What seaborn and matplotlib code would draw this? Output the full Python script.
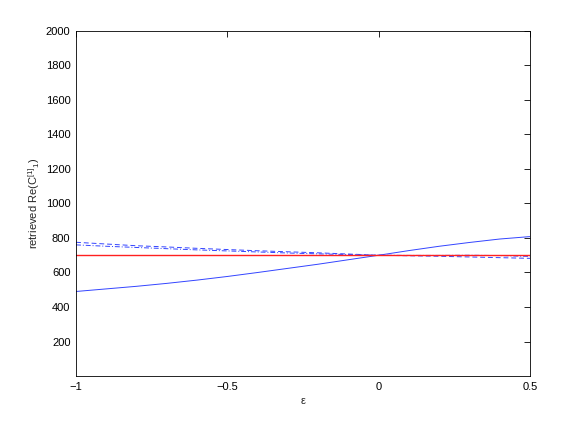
import numpy as np
import pandas as pd
import matplotlib
matplotlib.use("Agg")
import matplotlib.pyplot as plt
import seaborn as sns

# values (every 0.1 in epsilon)
eps = [-1.0, -0.9, -0.8, -0.7, -0.6, -0.5, -0.4, -0.3, -0.2, -0.1,
       0.0, 0.1, 0.2, 0.3, 0.4, 0.5]
solid = [490, 505, 520, 537, 556, 577, 600, 624, 648, 674,
         700, 727, 752, 774, 794, 808]
dashed = [775, 765, 755, 748, 740, 733, 726, 720, 714, 707,
          700, 697, 694, 690, 686, 682]
dashdot = [760, 752, 745, 738, 731, 725, 719, 713, 708, 704,
           700, 699, 699, 700, 698, 693]
true_value = [700] * len(eps)

sns.set_style("white")
plt.rcParams['font.family'] = ['Liberation Sans', 'DejaVu Sans']
plt.rcParams['mathtext.default'] = 'regular'

fig = plt.figure(figsize=(5.85, 4.23), dpi=100)
ax = fig.add_axes([0.13, 0.111, 0.776, 0.816])

df = pd.DataFrame({'eps': eps, 'solid': solid, 'dashed': dashed,
                   'dashdot': dashdot, 'true': true_value})

blue = '#3344ff'
sns.lineplot(data=df, x='eps', y='solid', ax=ax, color=blue, lw=0.7)
sns.lineplot(data=df, x='eps', y='dashed', ax=ax, color=blue, lw=0.7,
             linestyle=(0, (5, 3)))
sns.lineplot(data=df, x='eps', y='dashdot', ax=ax, color=blue, lw=0.7,
             linestyle=(0, (5, 2, 1, 2)))
sns.lineplot(data=df, x='eps', y='true', ax=ax, color='#ff2020', lw=1.0)

ax.set_xlim(-1, 0.5)
ax.set_ylim(0, 2000)
ax.set_xticks([-1, -0.5, 0, 0.5])
ax.set_xticklabels(['\u22121', '\u22120.5', '0', '0.5'])
ax.set_yticks(np.arange(200, 2001, 200))
ax.tick_params(direction='in', length=4, width=0.6, labelsize=8,
               top=True, right=True, colors='black', pad=4)
for s in ax.spines.values():
    s.set_linewidth(0.6)
    s.set_color('black')

ax.set_xlabel('\u03b5', fontsize=8, labelpad=3)
ax.set_ylabel(r'retrieved Re(C$^{[1]}$$_{1}$)', fontsize=8, labelpad=3)

fig.savefig('out.png', dpi=100)
